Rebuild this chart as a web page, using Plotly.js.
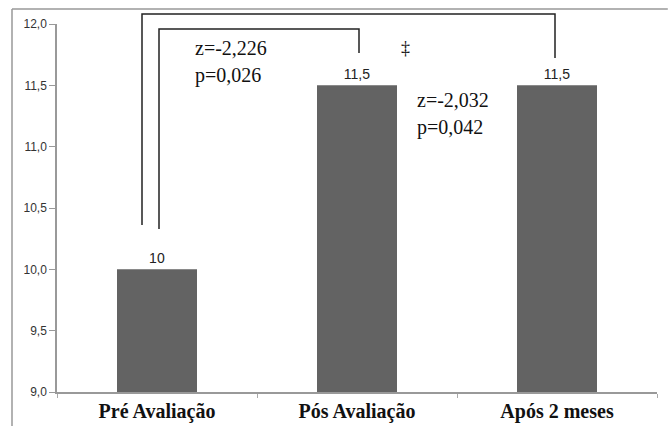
<!DOCTYPE html>
<html>
<head>
<meta charset="utf-8">
<script src="https://cdn.plot.ly/plotly-3.0.1.min.js"></script>
</head>
<body style="margin:0;background:#fff">
<div id="chart" style="width:668px;height:426px"></div>
<script>
// Data
var categories = ["Pré Avaliação", "Pós Avaliação", "Após 2 meses"];
var values = [10, 11.5, 11.5];
var valueLabels = ["10", "11,5", "11,5"];
var yTickVals = [9.0, 9.5, 10.0, 10.5, 11.0, 11.5, 12.0];
var comparison1 = ["z=-2,226", "p=0,026"];
var comparison2 = ["z=-2,032", "p=0,042"];
var marker = "‡";

var trace = {
  type: "bar",
  x: categories,
  y: values,
  text: valueLabels,
  textposition: "outside",
  cliponaxis: false,
  textfont: {family: "Liberation Sans", size: 14, color: "#222"},
  marker: {color: "#636363"},
  width: 0.4,
  hoverinfo: "none"
};

var layout = {
  width: 668,
  height: 426,
  margin: {l: 57, r: 11, t: 24, b: 34},
  separators: ",.",
  showlegend: false,
  xaxis: {
    type: "category",
    range: [-0.5, 2.5],
    tickvals: categories,
    ticktext: categories.map(function (c) { return "<b>" + c + "</b>"; }),
    showline: true,
    linecolor: "#999",
    linewidth: 1.5,
    ticks: "outside",
    tickson: "boundaries",
    ticklen: 4,
    tickcolor: "#aaa",
    showgrid: false,
    zeroline: false,
    tickfont: {family: "Liberation Serif", size: 20, color: "#111"}
  },
  yaxis: {
    range: [9, 12],
    tickvals: yTickVals,
    tickformat: ".1f",
    showline: true,
    linecolor: "#999",
    linewidth: 1.5,
    ticks: "outside",
    ticklen: 6,
    tickcolor: "#999",
    showgrid: false,
    zeroline: false,
    tickfont: {family: "Liberation Sans", size: 12, color: "#333"}
  },
  shapes: [
    // chart frame (left and top edges)
    {type: "line", xref: "paper", yref: "paper", x0: -0.075, x1: -0.075, y0: -0.15, y1: 1.041,
     line: {color: "#999", width: 1.5}},
    {type: "line", xref: "paper", yref: "paper", x0: -0.075, x1: 1.018, y0: 1.041, y1: 1.041,
     line: {color: "#999", width: 1.5}},
    // outer bracket (Pré vs Após)
    {type: "path", xref: "x", yref: "paper",
     path: "M -0.075,0.4538 L -0.075,1.0272 L 1.99,1.0272 L 1.99,0.9076",
     line: {color: "#222", width: 1.5}},
    // inner bracket (Pré vs Pós)
    {type: "path", xref: "x", yref: "paper",
     path: "M 0.01,0.4429 L 0.01,0.9864 L 1.01,0.9864 L 1.01,0.9212",
     line: {color: "#222", width: 1.5}}
  ],
  annotations: [
    {xref: "x", yref: "paper", x: 0.18, y: 0.935, xanchor: "left", yanchor: "middle",
     text: comparison1[0], showarrow: false, font: {family: "Liberation Serif", size: 20, color: "#111"}},
    {xref: "x", yref: "paper", x: 0.18, y: 0.859, xanchor: "left", yanchor: "middle",
     text: comparison1[1], showarrow: false, font: {family: "Liberation Serif", size: 20, color: "#111"}},
    {xref: "x", yref: "paper", x: 1.29, y: 0.793, xanchor: "left", yanchor: "middle",
     text: comparison2[0], showarrow: false, font: {family: "Liberation Serif", size: 20, color: "#111"}},
    {xref: "x", yref: "paper", x: 1.29, y: 0.72, xanchor: "left", yanchor: "middle",
     text: comparison2[1], showarrow: false, font: {family: "Liberation Serif", size: 20, color: "#111"}},
    {xref: "x", yref: "paper", x: 1.24, y: 0.935, xanchor: "center", yanchor: "middle",
     text: marker, showarrow: false, font: {family: "Liberation Serif", size: 18, color: "#111"}}
  ]
};

Plotly.newPlot("chart", [trace], layout, {displayModeBar: false});
</script>
</body>
</html>
